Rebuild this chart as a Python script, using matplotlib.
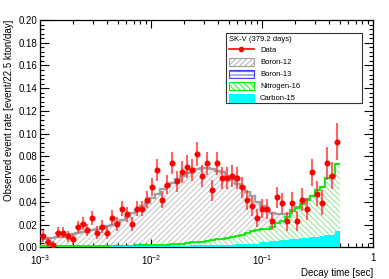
import numpy as np
import matplotlib
matplotlib.use("Agg")
import matplotlib.pyplot as plt
from matplotlib.lines import Line2D
from matplotlib.patches import Patch, Rectangle
from matplotlib.ticker import MultipleLocator, FixedLocator, NullFormatter, LogLocator

plt.rcParams['font.family'] = ['Liberation Sans', 'DejaVu Sans']
plt.rcParams['hatch.linewidth'] = 0.6
plt.rcParams['mathtext.fontset'] = 'custom'
plt.rcParams['mathtext.rm'] = 'Liberation Sans'

# ---- data ----
t_min, t_max, n_bins = 1e-3, 0.5, 60

data_rate = [0.010, 0.005, 0.0018, 0.013, 0.013, 0.0097, 0.007, 0.018, 0.0206, 0.0153,
             0.026, 0.013, 0.018, 0.013, 0.026, 0.0206, 0.034, 0.029, 0.0206, 0.034,
             0.034, 0.042, 0.053, 0.068, 0.042, 0.055, 0.074, 0.058, 0.066, 0.071,
             0.068, 0.082, 0.063, 0.074, 0.050, 0.074, 0.061, 0.061, 0.063, 0.061,
             0.053, 0.042, 0.036, 0.026, 0.034, 0.034, 0.023, 0.044, 0.039, 0.023,
             0.039, 0.023, 0.042, 0.034, 0.066, 0.047, 0.039, 0.074, 0.063, 0.093]

data_err = [0.0050, 0.0045, 0.0040, 0.0050, 0.0050, 0.0048, 0.0045, 0.0055, 0.0058, 0.0055,
            0.0062, 0.0055, 0.0058, 0.0055, 0.0065, 0.0062, 0.0068, 0.0066, 0.0062, 0.0068,
            0.0068, 0.0075, 0.0080, 0.0095, 0.0075, 0.0085, 0.0098, 0.0090, 0.0095, 0.0098,
            0.0097, 0.0103, 0.0095, 0.0100, 0.0090, 0.0100, 0.0095, 0.0095, 0.0097, 0.0097,
            0.0093, 0.0088, 0.0085, 0.0080, 0.0085, 0.0088, 0.0080, 0.0095, 0.0092, 0.0085,
            0.0095, 0.0088, 0.0100, 0.0098, 0.0120, 0.0110, 0.0110, 0.0145, 0.0120, 0.0165]

# stacked model: total (Boron-12 on top)
model_total = [0.0070, 0.0075, 0.0085, 0.0090, 0.0095, 0.0105, 0.0115, 0.0125, 0.0135, 0.0145,
               0.0155, 0.0160, 0.0175, 0.0185, 0.0200, 0.0220, 0.0240, 0.0270, 0.0300, 0.0330,
               0.0360, 0.0390, 0.0430, 0.0470, 0.0510, 0.0540, 0.0570, 0.0600, 0.0630, 0.0650,
               0.0670, 0.0690, 0.0695, 0.0695, 0.0690, 0.0670, 0.0660, 0.0630, 0.0600, 0.0560,
               0.0530, 0.0490, 0.0450, 0.0400, 0.0360, 0.0320, 0.0300, 0.0290, 0.0290, 0.0295,
               0.0330, 0.0357, 0.0385, 0.0424, 0.0453, 0.0502, 0.0532, 0.0611, 0.0631, 0.0731]

# stacked Nitrogen-16 (+ Carbon-15 below)
n16_stack = [0.0010, 0.0010, 0.0010, 0.0010, 0.0010, 0.0011, 0.0011, 0.0011, 0.0011, 0.0012,
             0.0012, 0.0012, 0.0013, 0.0013, 0.0013, 0.0014, 0.0014, 0.0015, 0.0015, 0.0016,
             0.0017, 0.0018, 0.0019, 0.0020, 0.0022, 0.0024, 0.0026, 0.0028, 0.0031, 0.0036,
             0.0045, 0.0046, 0.0050, 0.0056, 0.0062, 0.0070, 0.0076, 0.0084, 0.0092, 0.0100,
             0.0110, 0.0125, 0.0140, 0.0150, 0.0158, 0.0165, 0.0180, 0.0210, 0.0235, 0.0270,
             0.0320, 0.0350, 0.0380, 0.0420, 0.0450, 0.0500, 0.0530, 0.0610, 0.0630, 0.0730]

c15 = [0.0005, 0.0005, 0.0005, 0.0005, 0.0005, 0.0006, 0.0006, 0.0006, 0.0006, 0.0006,
       0.0007, 0.0007, 0.0007, 0.0007, 0.0008, 0.0008, 0.0008, 0.0008, 0.0009, 0.0009,
       0.0010, 0.0010, 0.0011, 0.0011, 0.0012, 0.0012, 0.0013, 0.0013, 0.0014, 0.0015,
       0.0016, 0.0017, 0.0018, 0.0019, 0.0020, 0.0021, 0.0022, 0.0023, 0.0024, 0.0025,
       0.0026, 0.0027, 0.0028, 0.0029, 0.0044, 0.0048, 0.0052, 0.0056, 0.0060, 0.0065,
       0.0070, 0.0075, 0.0080, 0.0085, 0.0090, 0.0095, 0.0100, 0.0106, 0.0110, 0.0146]

legend_title = "SK-V (379.2 days)"
legend_labels = ["Data", "Boron-12", "Boron-13", "Nitrogen-16", "Carbon-15"]

# ---- plot ----
edges = np.geomspace(t_min, t_max, n_bins + 1)
centers = np.sqrt(edges[:-1] * edges[1:])

fig = plt.figure(figsize=(3.89, 2.79), dpi=100)
ax = fig.add_axes([0.103, 0.1136, 0.856, 0.8147])

gray = '#a0a0a0'
green = '#00ee00'
cyan = '#00ffff'

# Boron-12 (total) hatch + outline
ax.stairs(model_total, edges, baseline=0, fill=True, facecolor='none',
          edgecolor='#b8b8b8', hatch='//////', linewidth=0, zorder=1)
ax.stairs(model_total, edges, baseline=None, color=gray, linewidth=1.7, zorder=2)

# Nitrogen-16
ax.stairs(n16_stack, edges, baseline=0, fill=True, facecolor='white',
          edgecolor='#7ee07e', hatch='\\\\\\\\\\\\', linewidth=0, zorder=3)
ax.stairs(n16_stack, edges, baseline=None, color=green, linewidth=1.3, zorder=4)

# Carbon-15
ax.stairs(c15, edges, baseline=0, fill=True, facecolor=cyan, edgecolor=cyan,
          linewidth=0, zorder=5)

# Data
xerr = np.vstack([centers - edges[:-1], edges[1:] - centers])
ax.errorbar(centers, data_rate, yerr=data_err, xerr=xerr, fmt='none',
            ecolor='#ff3030', elinewidth=1.5, alpha=0.75, zorder=6)
ax.plot(centers, data_rate, 'o', color='#ff0000', markersize=3.3, zorder=7)

ax.set_xscale('log')
ax.set_xlim(1e-3, 1)
ax.set_ylim(0, 0.2)

ax.yaxis.set_major_locator(MultipleLocator(0.02))
ax.yaxis.set_minor_locator(MultipleLocator(0.004))
ax.yaxis.set_major_formatter(matplotlib.ticker.FormatStrFormatter('%.2f'))
ax.xaxis.set_major_locator(FixedLocator([1e-3, 1e-2, 1e-1, 1]))
ax.xaxis.set_minor_locator(LogLocator(base=10, subs=np.arange(2, 10)))
ax.xaxis.set_minor_formatter(NullFormatter())
ax.set_xticklabels([r'$10^{-3}$', r'$10^{-2}$', r'$10^{-1}$', '1'])

ax.tick_params(which='both', direction='in', top=True, right=True, labelsize=7,
               width=0.8, color='black')
ax.tick_params(axis='y', which='major', length=6.5, pad=2)
ax.tick_params(axis='y', which='minor', length=3.2)
ax.tick_params(axis='x', which='major', length=5.5, pad=4)
ax.tick_params(axis='x', which='minor', length=3.0)
for s in ax.spines.values():
    s.set_linewidth(0.9)

ax.set_ylabel("Observed event rate [event/22.5 kton/day]", fontsize=7, loc='top', labelpad=3)
ax.set_xlabel("Decay time [sec]", fontsize=7, loc='right', labelpad=1)

handles = [
    Line2D([0], [0], color='#ff0000', marker='o', markersize=3, linewidth=1.2),
    Patch(facecolor='white', edgecolor='#a0a0a0', hatch='//////', linewidth=0.8),
    Patch(facecolor='white', edgecolor='#4040ff', hatch='-----', linewidth=0.8),
    Patch(facecolor='white', edgecolor=green, hatch='\\\\\\\\\\\\', linewidth=0.8),
    Patch(facecolor=cyan, edgecolor=cyan, linewidth=0.8),
]
# legend frame box
frame = Rectangle((0.559, 0.635), 0.408, 0.308, transform=ax.transAxes,
                  facecolor='white', edgecolor='#333333', linewidth=0.8, zorder=9)
ax.add_patch(frame)
leg = ax.legend(handles, legend_labels, title=legend_title, loc='upper left',
                bbox_to_anchor=(0.561, 0.940), fontsize=5.5, title_fontsize=5.5,
                alignment='left', frameon=False, borderpad=0.25,
                handlelength=3.3, handleheight=1.2, labelspacing=0.45,
                handletextpad=0.8, borderaxespad=0)
leg.set_zorder(10)

fig.savefig("out.png", dpi=100)
